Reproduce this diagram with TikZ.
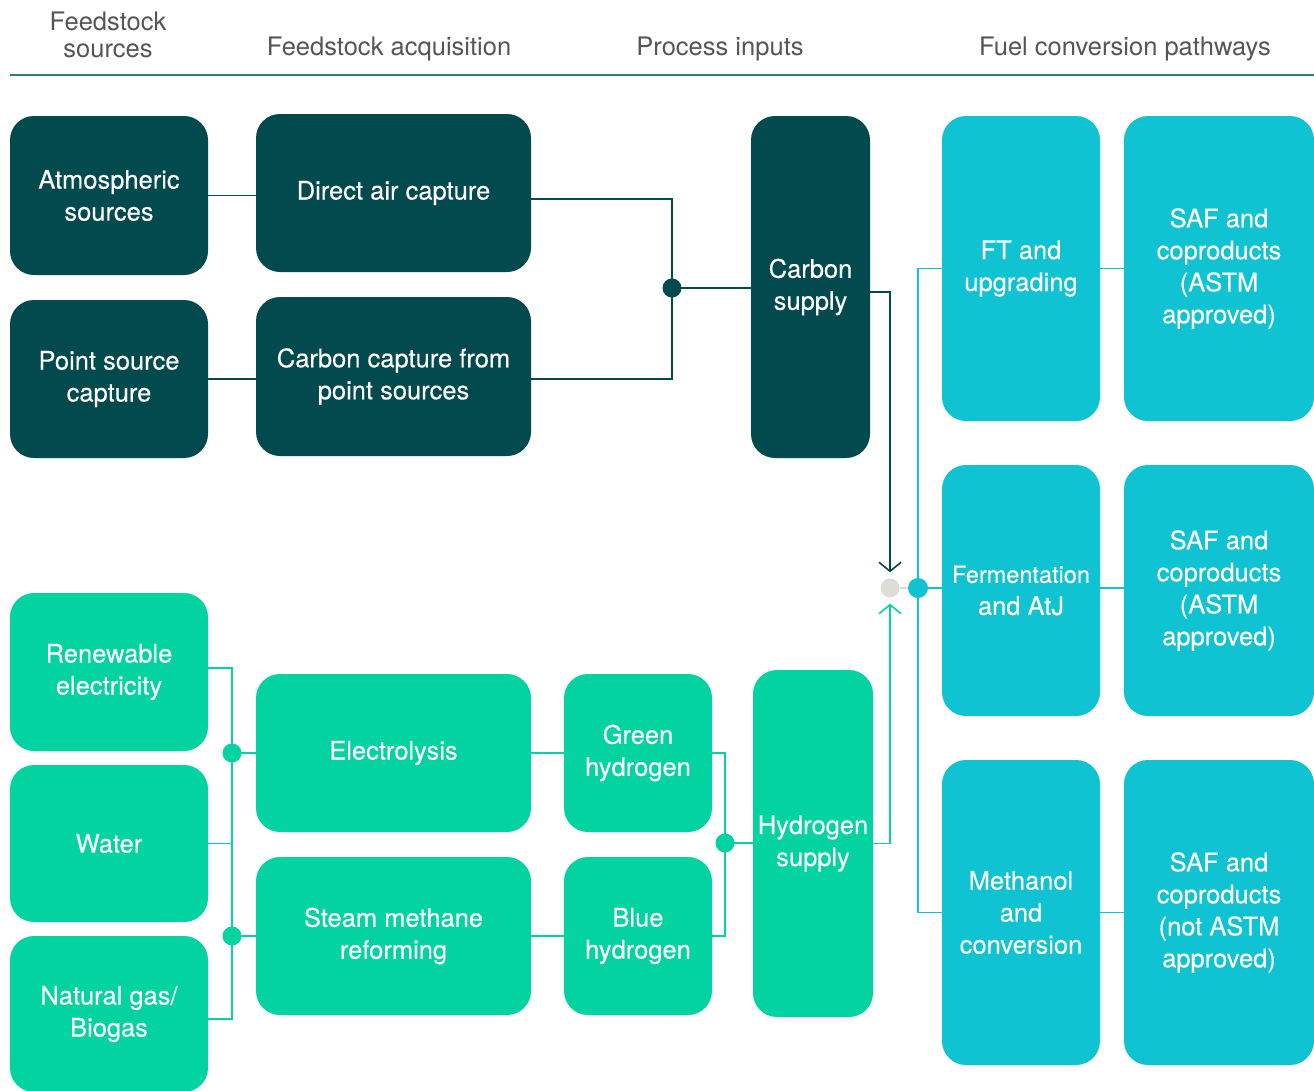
\documentclass[tikz,border=0pt]{standalone}
\usepackage{fontspec}
\setmainfont{TeX Gyre Heros}
\newfontfamily\boxfont[FakeBold=0.3]{TeX Gyre Heros}
\usepackage{tikz}
\usetikzlibrary{calc,arrows.meta}
\definecolor{fs-dark}{HTML}{024A4D}
\definecolor{fs-green}{HTML}{03D3A1}
\definecolor{fs-cyan}{HTML}{10C3D2}
\definecolor{fs-grey}{HTML}{DEDCD7}
\definecolor{fs-head}{HTML}{555555}
\definecolor{fs-rule}{HTML}{2E7D7A}
\tikzset{
  pbox/.style={rounded corners=24pt, text=white, align=center, inner sep=0pt,
    font=\boxfont\fontsize{25.5}{32}\selectfont},
  darkbox/.style={pbox, fill=fs-dark},
  greenbox/.style={pbox, fill=fs-green},
  cyanbox/.style={pbox, fill=fs-cyan},
  head/.style={text=fs-head, align=center, font=\fontsize{25.5}{27}\selectfont},
  darkline/.style={fs-dark, line width=1.6pt},
  greenline/.style={fs-green, line width=1.6pt},
  cyanline/.style={fs-cyan, line width=1.6pt},
}
\newcommand{\boxat}[6]{% style, name, x1, y1, x2, y2
  \node[#1, minimum width={#5-#3}, minimum height={#6-#4}] (#2) at ({(#3+#5)/2},{(#4+#6)/2})}

\begin{document}
\begin{tikzpicture}[x=1pt, y=-1pt]
    \useasboundingbox (0,0) rectangle (1314,1090);
    % Column headings
    \node[head] (h1) at (108,35) {Feedstock\\sources};
    \node[head] (h2) at (389,49) {Feedstock acquisition};
    \node[head] (h3) at (720,49) {Process inputs};
    \node[head] (h4) at (1125,49) {Fuel conversion pathways};
    \draw[fs-rule, line width=2pt] (10,75) -- (1314,75);
    % Carbon side
    \boxat{darkbox}{atmos}{10}{116}{208}{275} {Atmospheric\\sources};
    \boxat{darkbox}{point}{10}{300}{208}{458} {Point source\\capture};
    \boxat{darkbox}{dac}{256}{114}{531}{272} {Direct air capture};
    \boxat{darkbox}{ccps}{256}{297}{531}{456} {Carbon capture from\\point sources};
    \boxat{darkbox}{csup}{751}{116}{870}{458} {Carbon\\supply};
    % Hydrogen side
    \boxat{greenbox}{renew}{10}{593}{208}{751} {Renewable\\electricity};
    \boxat{greenbox}{water}{10}{765}{208}{922} {Water};
    \boxat{greenbox}{natgas}{10}{936}{208}{1092} {Natural gas/\\Biogas};
    \boxat{greenbox}{elec}{256}{674}{531}{832} {Electrolysis};
    \boxat{greenbox}{smr}{256}{857}{531}{1015} {Steam methane\\reforming};
    \boxat{greenbox}{greenh}{564}{674}{712}{832} {Green\\hydrogen};
    \boxat{greenbox}{blueh}{564}{857}{712}{1015} {Blue\\hydrogen};
    \boxat{greenbox}{hsup}{753}{670}{873}{1017} {Hydrogen\\supply};
    % Conversion pathways
    \boxat{cyanbox}{ft}{942}{116}{1100}{421} {FT and\\upgrading};
    \boxat{cyanbox}{saf1}{1124}{116}{1314}{421} {SAF and\\coproducts\\(ASTM\\approved)};
    \boxat{cyanbox}{ferm}{942}{465}{1100}{716} {\fontsize{23.5}{29}\selectfont Fermentation\\and AtJ};
    \boxat{cyanbox}{saf2}{1124}{465}{1314}{716} {SAF and\\coproducts\\(ASTM\\approved)};
    \boxat{cyanbox}{meth}{942}{760}{1100}{1065} {Methanol\\and\\conversion};
    \boxat{cyanbox}{saf3}{1124}{760}{1314}{1065} {SAF and\\coproducts\\(not ASTM\\approved)};
    % Junctions
    \coordinate (cjunc) at (672,288);
    \coordinate (eldot) at (232,753);
    \coordinate (smdot) at (232,936);
    \coordinate (hdot) at (725,843);
    \node[circle, fill=fs-grey, minimum size=19pt, inner sep=0pt] (hub) at (890,588) {};
    \node[circle, fill=fs-cyan, minimum size=20pt, inner sep=0pt] (cdot) at (918,588) {};
    % Carbon connectors
    \draw[darkline] (atmos.east) -- (atmos.east -| dac.west);
    \draw[darkline] (point.east) -- (point.east -| ccps.west);
    \draw[darkline] ([yshift=-6pt]dac.east) -| (cjunc);
    \draw[darkline] ([yshift=-2.5pt]ccps.east) -| (cjunc);
    \draw[darkline] (cjunc) -- (cjunc -| csup.west);
    \fill[fs-dark] (cjunc) circle (9.5pt);
    \draw[darkline, -{Straight Barb[length=9pt, width=22pt]}, shorten >=6pt] ([yshift=-5pt]csup.east) -| (hub.north);
    % Hydrogen connectors
    \draw[greenline] (renew.east |- 0,668) -| (smdot);
    \draw[greenline] (natgas.east |- 0,1019) -| (smdot);
    \draw[greenline] (water.east) -- (water.east -| eldot);
    \draw[greenline] (eldot) -- (eldot -| elec.west);
    \draw[greenline] (smdot) -- (smdot -| smr.west);
    \fill[fs-green] (eldot) circle (9.5pt) (smdot) circle (9.5pt);
    \draw[greenline] (elec) -- (greenh);
    \draw[greenline] (smr) -- (blueh);
    \draw[greenline] (greenh.east) -| (hdot);
    \draw[greenline] (blueh.east) -| (hdot);
    \draw[greenline] (hdot) -- (hdot -| hsup.west);
    \fill[fs-green] (hdot) circle (9.5pt);
    \draw[greenline, -{Straight Barb[length=9pt, width=22pt]}, shorten >=6pt] (hsup.east) -| (hub.south);
    % Pathway connectors
    \draw[fs-grey, line width=2.5pt] (hub) -- (cdot);
    \draw[cyanline] (ft.west) -| (cdot);
    \draw[cyanline] (meth.west) -| (cdot);
    \draw[cyanline] (cdot) -- (cdot -| ferm.west);
    \draw[cyanline] (ft) -- (saf1);
    \draw[cyanline] (ferm.east |- cdot) -- (cdot -| saf2.west);
    \draw[cyanline] (meth) -- (saf3);
\end{tikzpicture}
\end{document}
